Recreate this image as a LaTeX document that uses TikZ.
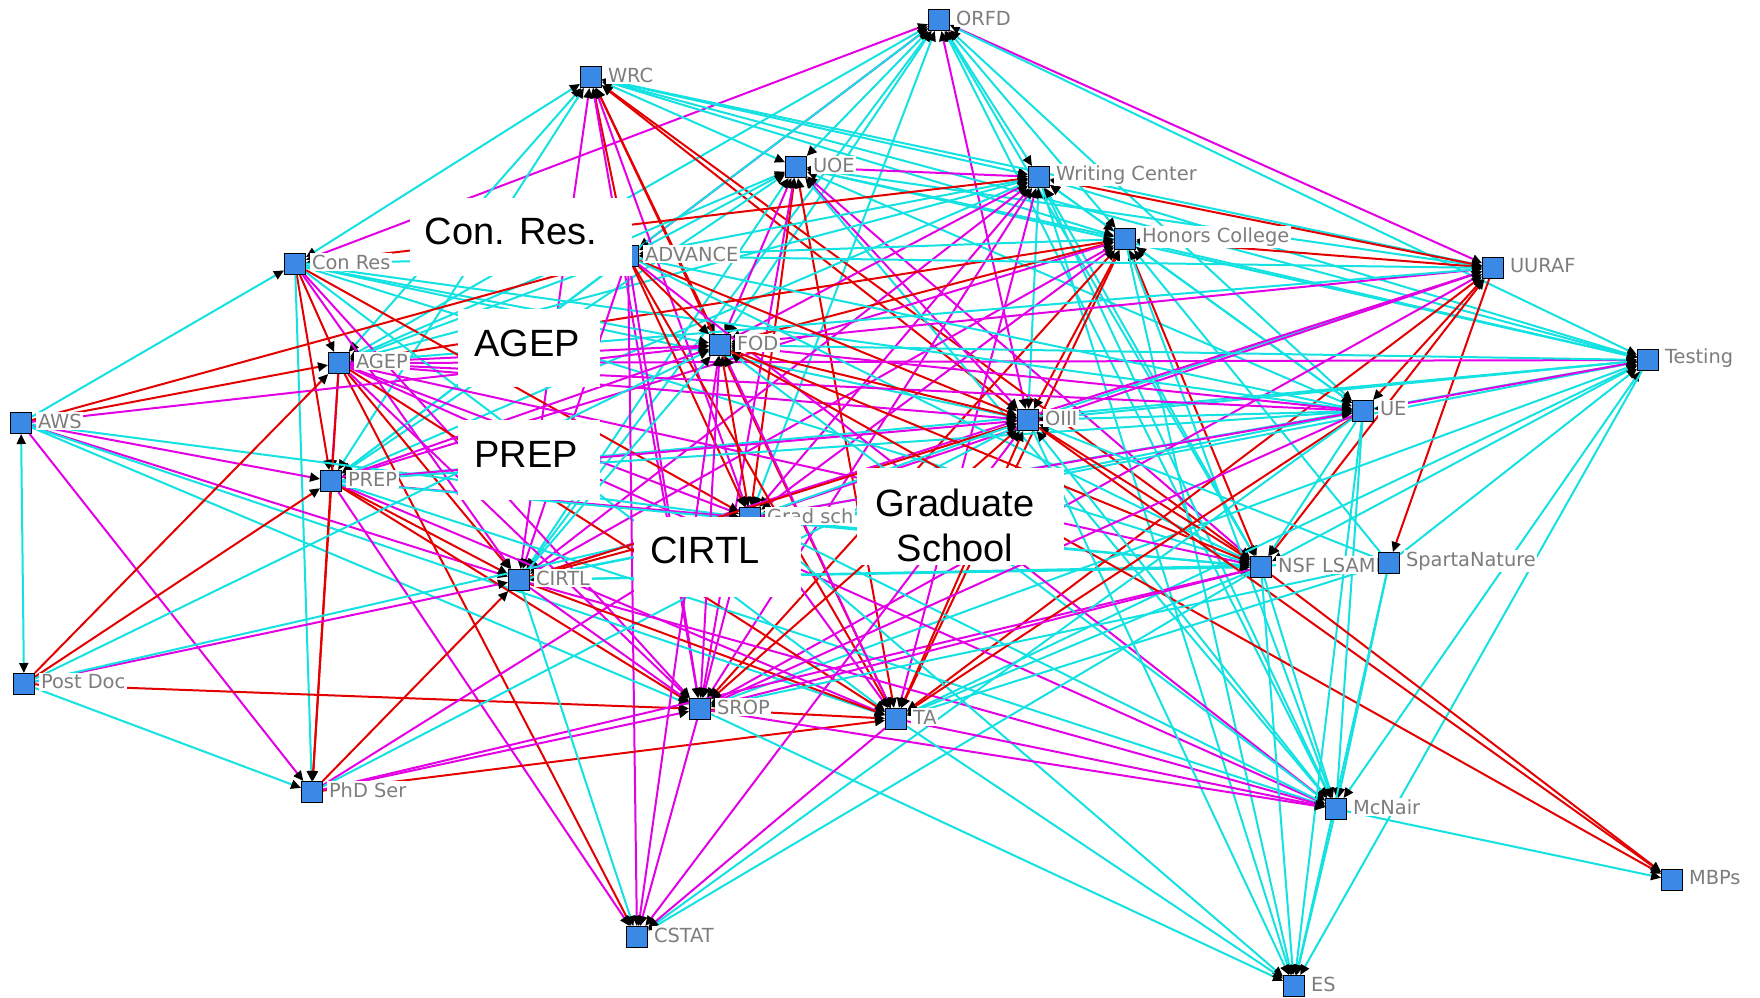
\documentclass[tikz,border=0pt]{standalone}
\usepackage{fontspec}
\setmainfont{Liberation Sans}
\newfontfamily\lblfont{DejaVu Sans}
\usetikzlibrary{arrows.meta}
\pgfdeclarelayer{background}
\pgfsetlayers{background,main}
\definecolor{ncyan}{RGB}{20,225,225}
\definecolor{nmag}{RGB}{228,0,228}
\definecolor{nred}{RGB}{228,0,0}
\definecolor{nblue}{RGB}{58,137,230}
\definecolor{ngrey}{RGB}{125,125,125}
\tikzset{
  sq/.style={rectangle, draw=black, line width=0.5pt, fill=nblue, minimum size=10.5pt, inner sep=0pt},
  lbl/.style={anchor=west, font=\lblfont\fontsize{9.7}{11}\selectfont, text=ngrey, fill=white, inner sep=0.8pt, xshift=2pt, yshift=1pt},
  tipk/.tip={Triangle[length=5pt,width=4.5pt,color=black]},
  ebase/.style={line width=1pt, -tipk},
  ebaseb/.style={line width=1pt, tipk-tipk},
  linec/.style={ebase, draw=ncyan},
  linem/.style={ebase, draw=nmag},
  liner/.style={ebase, draw=nred},
  linecb/.style={ebaseb, draw=ncyan},
  linemb/.style={ebaseb, draw=nmag},
  linerb/.style={ebaseb, draw=nred},
  wbox/.style={fill=white, draw=none},
  boxtxt/.style={font=\fontsize{19}{22.5}\selectfont, align=center, inner sep=0pt, text=black}
}
\begin{document}
\begin{tikzpicture}[x=0.5pt,y=-0.5pt]
\useasboundingbox (0,0) rectangle (1760,997);
% nodes
\node[sq] (ORFD) at (939,20) {};
\node[sq] (WRC) at (591,77) {};
\node[sq] (UOE) at (796,167) {};
\node[sq] (WC) at (1039,177) {};
\node[sq] (HC) at (1125,239) {};
\node[sq] (CR) at (295,264) {};
\node[sq] (ADV) at (628,256) {};
\node[sq] (UURAF) at (1493,268) {};
\node[sq] (FOD) at (720,345) {};
\node[sq] (TEST) at (1648,360) {};
\node[sq] (AGEP) at (339,363) {};
\node[sq] (AWS) at (21,423) {};
\node[sq] (OIII) at (1028,420) {};
\node[sq] (UE) at (1363,411) {};
\node[sq] (PREP) at (331,481) {};
\node[sq] (GS) at (750,518) {};
\node[sq] (CIRTL) at (519,580) {};
\node[sq] (NSF) at (1261,567) {};
\node[sq] (PD) at (24,684) {};
\node[sq] (SROP) at (700,709) {};
\node[sq] (TA) at (896,719) {};
\node[sq] (PHD) at (312,792) {};
\node[sq] (MCN) at (1336,809) {};
\node[sq] (MBPs) at (1672,880) {};
\node[sq] (CSTAT) at (637,937) {};
\node[sq] (ES) at (1294,986) {};
% labels
\node[lbl] (ORFD-l) at (ORFD.east) {ORFD};
\node[lbl] (WRC-l) at (WRC.east) {WRC};
\node[lbl] (UOE-l) at (UOE.east) {UOE};
\node[lbl] (WC-l) at (WC.east) {Writing Center};
\node[lbl] (HC-l) at (HC.east) {Honors College};
\node[lbl] (CR-l) at (CR.east) {Con Res};
\node[lbl] (ADV-l) at (ADV.east) {ADVANCE};
\node[lbl] (UURAF-l) at (UURAF.east) {UURAF};
\node[lbl] (FOD-l) at (FOD.east) {FOD};
\node[lbl] (TEST-l) at (TEST.east) {Testing};
\node[lbl] (AGEP-l) at (AGEP.east) {AGEP};
\node[lbl] (AWS-l) at (AWS.east) {AWS};
\node[lbl] (OIII-l) at (OIII.east) {OIII};
\node[lbl] (UE-l) at (UE.east) {UE};
\node[lbl] (PREP-l) at (PREP.east) {PREP};
\node[lbl] (GS-l) at (GS.east) {Grad sch};
\node[lbl] (CIRTL-l) at (CIRTL.east) {CIRTL};
\node[lbl] (NSF-l) at (NSF.east) {NSF LSAMP};
\node[sq] (SN) at (1389,563) {};
\node[lbl] (SN-l) at (SN.east) {SpartaNature};
\node[lbl] (PD-l) at (PD.east) {Post Doc};
\node[lbl] (SROP-l) at (SROP.east) {SROP};
\node[lbl] (TA-l) at (TA.east) {TA};
\node[lbl] (PHD-l) at (PHD.east) {PhD Ser};
\node[lbl] (MCN-l) at (MCN.east) {McNair};
\node[lbl] (MBPs-l) at (MBPs.east) {MBPs};
\node[lbl] (CSTAT-l) at (CSTAT.east) {CSTAT};
\node[lbl] (ES-l) at (ES.east) {ES};
% edges
\begin{pgfonlayer}{background}
\foreach \s/\t/\c in {
 ORFD/CR/mb, ORFD/ADV/mb, ORFD/UURAF/mb, ORFD/OIII/mb, ORFD/UOE/cb, ORFD/FOD/cb, ORFD/AGEP/cb, ORFD/WC/cb, ORFD/HC/cb, ORFD/NSF/cb, ORFD/UE/cb, ORFD/GS/cb, ORFD/CIRTL/cb, ORFD/TEST/cb, ORFD/PREP/cb, ORFD/MCN/cb,
 WRC/CR/cb, WRC/AGEP/cb, WRC/PREP/cb, WRC/ADV/rb, WRC/FOD/rb, WRC/OIII/rb, WRC/GS/mb, WRC/CIRTL/mb, WRC/TA/rb, WRC/WC/cb, WRC/HC/cb, WRC/UURAF/cb, WRC/TEST/cb, WRC/UOE/cb, WRC/SROP/mb, WRC/NSF/rb,
 UOE/AGEP/cb, UOE/ADV/cb, UOE/FOD/mb, UOE/GS/rb, UOE/OIII/mb, UOE/NSF/mb, UOE/TA/rb, UOE/SROP/mb, UOE/HC/cb, UOE/WC/mb, UOE/UURAF/cb, UOE/TEST/cb, UOE/UE/cb, UOE/PREP/cb, UOE/CIRTL/cb, UOE/MCN/cb,
 WC/CR/rb, WC/ADV/cb, WC/AGEP/cb, WC/FOD/mb, WC/OIII/cb, WC/GS/mb, WC/CIRTL/mb, WC/SROP/mb, WC/TA/mb, WC/NSF/cb, WC/UE/cb, WC/HC/cb, WC/UURAF/rb, WC/TEST/cb, WC/MCN/cb, WC/PREP/cb, WC/ES/c,
 HC/ADV/cb, HC/AGEP/rb, HC/FOD/rb, HC/OIII/rb, HC/GS/mb, HC/CIRTL/mb, HC/SROP/rb, HC/TA/rb, HC/NSF/rb, HC/UE/cb, HC/UURAF/rb, HC/TEST/cb, HC/MCN/cb, HC/PREP/mb, SN/HC/c, HC/ES/c,
 UURAF/ADV/cb, UURAF/FOD/mb, UURAF/OIII/cb, UURAF/GS/mb, UURAF/CIRTL/mb, UURAF/NSF/rb, UURAF/UE/rb, UURAF/SROP/mb, UURAF/TA/rb, UURAF/SN/r, UURAF/AGEP/cb,
 TEST/AGEP/mb, TEST/FOD/cb, TEST/OIII/cb, TEST/GS/cb, TEST/CIRTL/cb, TEST/UE/mb, TEST/NSF/cb, TEST/SROP/cb, TEST/TA/cb, TEST/MCN/cb, SN/TEST/c, TEST/ES/c, TEST/PREP/cb,
 CR/AGEP/r, CR/PREP/r, CR/CIRTL/m, CR/GS/r, CR/FOD/c, CR/OIII/c, CR/SROP/m, CR/TA/c, CR/PHD/c, CR/NSF/c, CR/UE/c, CR/ADV/c,
 ADV/AGEP/c, ADV/FOD/r, ADV/OIII/r, ADV/GS/r, ADV/CIRTL/m, ADV/SROP/m, ADV/TA/r, ADV/PREP/c, ADV/NSF/c, ADV/UE/c, ADV/MCN/m, ADV/CSTAT/m,
 AGEP/PREP/m, AGEP/CIRTL/r, AGEP/SROP/m, AGEP/TA/r, AGEP/GS/m, AGEP/FOD/m, AGEP/OIII/m, AGEP/NSF/m, AGEP/UE/m, AGEP/MCN/m, AGEP/CSTAT/r, AGEP/PHD/r,
 AWS/AGEP/r, AWS/ADV/r, AWS/FOD/m, AWS/CR/c, AWS/PREP/m, AWS/CIRTL/m, AWS/SROP/c, AWS/TA/c, AWS/PHD/m, AWS/GS/c,
 PREP/CIRTL/r, PREP/GS/m, PREP/FOD/m, PREP/OIII/m, PREP/SROP/r, PREP/TA/m, PREP/CSTAT/m, PREP/PHD/r, PREP/NSF/c, PREP/MCN/c, PREP/UE/c,
 PD/AGEP/r, PD/PREP/r, PD/SROP/r, PD/PHD/c, PD/CIRTL/m, PD/GS/c, PD/FOD/c,
 PHD/SROP/m, PHD/TA/r, PHD/NSF/m, PHD/CIRTL/r, PHD/GS/m, PHD/OIII/c,
 CIRTL/GS/r, CIRTL/FOD/c, CIRTL/OIII/r, CIRTL/SROP/m, CIRTL/TA/r, CIRTL/NSF/c, CIRTL/MCN/m, CIRTL/UE/c, CIRTL/CSTAT/c, SN/CIRTL/c,
 FOD/OIII/rb, FOD/GS/rb, FOD/SROP/mb, FOD/TA/mb, FOD/NSF/rb, FOD/UE/mb, FOD/MCN/cb, FOD/MBPs/r, FOD/CSTAT/mb,
 GS/OIII/c, GS/SROP/m, GS/TA/m, GS/NSF/c, GS/UE/m, GS/MCN/c, GS/ES/c,
 OIII/NSF/rb, OIII/UE/cb, OIII/SROP/rb, OIII/TA/rb, OIII/MCN/cb, OIII/MBPs/r, OIII/CSTAT/mb, OIII/ES/c, SN/OIII/c,
 UE/NSF/c, UE/SROP/m, UE/TA/r, UE/MCN/c, UE/ES/c, UE/CSTAT/c,
 NSF/SROP/m, NSF/TA/c, NSF/MCN/c, NSF/ES/c, NSF/MBPs/r, NSF/CSTAT/c,
 SN/SROP/c, SN/TA/c, SN/MCN/c, SN/ES/c,
 SROP/TA/r, SROP/MCN/m, SROP/ES/c, SROP/CSTAT/m,
 TA/MCN/m, TA/CSTAT/m, TA/ES/c,
 MCN/MBPs/c, MCN/ES/c}
 { \draw[line\c] (\s) -- (\t); }
\draw[linecb] (AWS) -- (PD);
\end{pgfonlayer}
% white label boxes
\path[wbox] (410,198) rectangle (632,276);
\node[boxtxt] (b-cr) at (511,231) {Con. Res.};
\path[wbox] (458,309) rectangle (600,387);
\node[boxtxt] (b-agep) at (527,343) {AGEP};
\path[wbox] (458,420) rectangle (600,500);
\node[boxtxt] (b-prep) at (526,454) {PREP};
\path[wbox] (634,517) rectangle (801,597);
\node[boxtxt] (b-cirtl) at (705,550) {CIRTL};
\path[wbox] (857,468) rectangle (1064,565);
\node[boxtxt] (b-gs) at (955,525) {Graduate\\School};
\end{tikzpicture}
\end{document}
